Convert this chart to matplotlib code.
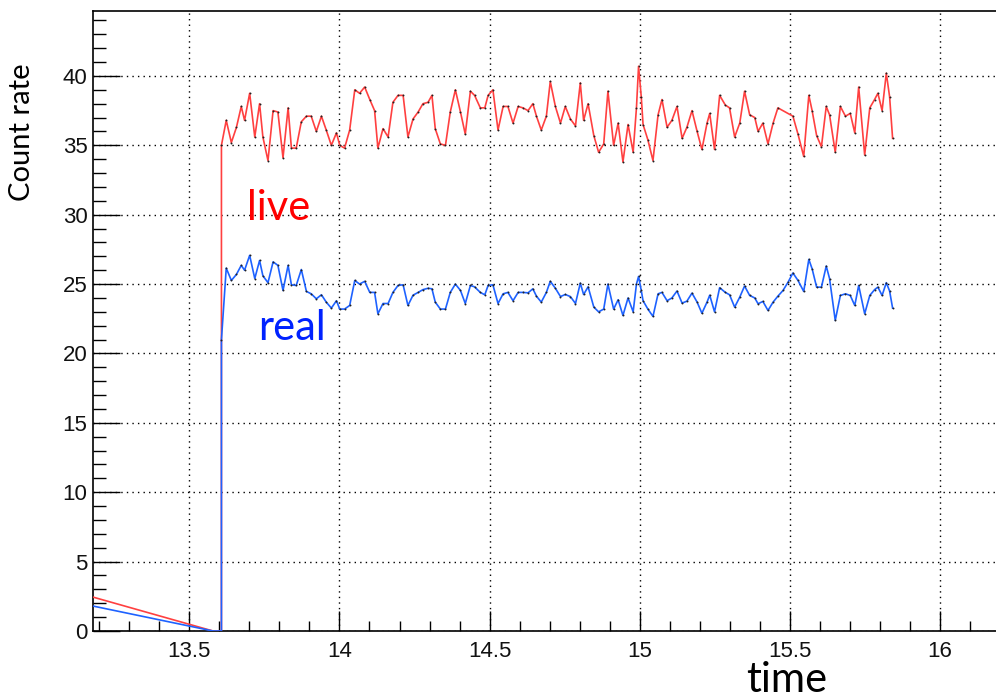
import numpy as np
import matplotlib
matplotlib.use('Agg')
import matplotlib.pyplot as plt
from matplotlib.ticker import MultipleLocator, FuncFormatter

# ---- data ----
lead_time = [13.17, 13.579, 13.607]
live_lead = [2.5, 0.0, 0.0]
real_lead = [1.84, 0.0, 0.0]

time = [13.607, 13.623, 13.640, 13.657, 13.673, 13.684, 13.701, 13.718, 13.734, 13.745,
        13.762, 13.779, 13.795, 13.812, 13.829, 13.840, 13.856, 13.873, 13.890, 13.906,
        13.923, 13.940, 13.956, 13.973, 13.990, 14.001, 14.017, 14.034, 14.051, 14.067,
        14.084, 14.101, 14.117, 14.128, 14.145,
        14.162, 14.178, 14.195, 14.212, 14.228, 14.245, 14.262, 14.278, 14.295, 14.308,
        14.319, 14.336, 14.353, 14.369, 14.386, 14.403, 14.419, 14.436, 14.450, 14.469,
        14.484, 14.495, 14.511, 14.528, 14.545, 14.561, 14.578, 14.595, 14.611, 14.628,
        14.644, 14.656, 14.672, 14.689, 14.702, 14.719,
        14.736, 14.752, 14.769, 14.786, 14.802, 14.813, 14.828, 14.847, 14.863, 14.880,
        14.894, 14.913, 14.928, 14.944, 14.961, 14.978, 14.989, 14.996, 15.005, 15.011,
        15.027, 15.044, 15.061, 15.074, 15.091, 15.107, 15.124, 15.141, 15.157, 15.174,
        15.191, 15.207, 15.224, 15.233, 15.249, 15.266, 15.285,
        15.299, 15.316, 15.333, 15.349, 15.366, 15.383, 15.394, 15.410, 15.427, 15.444,
        15.460, 15.477, 15.494, 15.510, 15.527, 15.546, 15.563, 15.574, 15.589, 15.605,
        15.621, 15.632, 15.651, 15.668, 15.685, 15.701, 15.716, 15.729, 15.749, 15.766,
        15.782, 15.793, 15.807, 15.821, 15.832, 15.842]

live = [35.0, 36.8, 35.2, 36.3, 37.8, 36.8, 38.75, 35.6, 38.0, 35.6,
        33.9, 37.5, 37.4, 34.1, 37.7, 34.8, 34.8, 36.7, 37.1, 37.1,
        36.0, 37.1, 36.1, 35.0, 35.9, 35.0, 34.8, 36.1, 39.0, 38.75,
        39.2, 38.3, 37.5, 34.8, 36.2,
        35.6, 38.1, 38.6, 38.6, 35.6, 36.9, 37.4, 38.0, 38.1, 38.6,
        36.2, 35.1, 35.0, 37.4, 39.0, 37.4, 35.8, 38.9, 38.6, 37.7,
        37.7, 38.6, 39.0, 36.1, 37.8, 37.8, 36.6, 37.8, 37.7, 37.5,
        38.0, 37.1, 36.1, 37.1, 39.6, 37.8,
        36.6, 37.8, 36.9, 36.4, 39.5, 36.8, 38.0, 35.7, 34.5, 35.1,
        38.9, 35.0, 36.6, 33.8, 36.5, 34.5, 37.7, 40.7, 38.5, 36.5,
        35.4, 33.9, 37.2, 38.3, 36.3, 36.8, 37.8, 35.5, 36.3, 37.5,
        36.0, 34.7, 36.6, 37.3, 34.7, 38.6, 37.9,
        37.7, 35.6, 36.6, 38.9, 37.2, 37.0, 36.0, 36.6, 35.1, 36.6,
        37.7, None, None, 37.1, 35.8, 34.2, 38.6, 37.5, 35.7, 34.9,
        37.8, 37.2, 34.5, 37.8, 37.1, 37.3, 35.9, 39.2, 34.3, 37.7,
        38.3, 38.75, 37.5, 40.2, 38.5, 35.5]

real = [21.0, 26.15, 25.26, 25.7, 26.35, 26.0, 27.07, 25.4, 26.7, 25.6,
        25.1, 26.6, 26.35, 24.54, 26.35, 24.95, 24.9, 26.05, 24.47, 24.3,
        23.94, 24.23, 23.7, 23.27, 23.8, 23.2, 23.2, 23.46, 25.26, 25.0,
        25.2, 24.4, 24.4, 22.86, 23.6,
        23.6, 24.4, 24.9, 24.95, 23.46, 24.2, 24.4, 24.6, 24.7, 24.66,
        23.7, 23.2, 23.2, 24.4, 25.0, 24.54, 23.6, 24.9, 24.8, 24.4,
        24.23, 24.9, 24.95, 23.6, 24.3, 24.4, 23.8, 24.4, 24.4, 24.37,
        24.66, 24.13, 23.7, 24.4, 25.2, 24.7,
        24.1, 24.25, 24.1, 23.6, 25.07, 24.25, 24.8, 23.34, 23.0, 23.2,
        25.0, 23.2, 23.87, 22.74, 24.0, 23.0, 25.0, 25.55, 24.54, 23.8,
        23.2, 22.67, 24.3, 24.4, 23.8, 24.0, 24.5, 23.63, 23.77, 24.35,
        23.7, 22.9, 23.7, 24.2, 23.0, 24.74, 24.4,
        24.23, 23.34, 24.06, 24.86, 24.18, 24.0, 23.58, 23.75, 23.1, 23.7,
        24.13, 24.54, 25.14, 25.8, 25.26, 24.47, 26.78, 26.1, 24.78, 24.78,
        26.3, 25.4, 22.38, 24.18, 24.3, 24.18, 23.46, 24.9, 22.86, 24.18,
        24.6, 24.78, 24.18, 25.1, 24.5, 23.27]

x_major_labels = ["13.5", "14", "14.5", "15", "15.5", "16"]
y_major_labels = ["0", "5", "10", "15", "20", "25", "30", "35", "40"]

# ---- figure ----
W, H = 996, 699
fig = plt.figure(figsize=(W / 100, H / 100), dpi=100)
ax = fig.add_axes([93 / W, 1 - 631 / H, (W - 93) / W, (631 - 11) / H])

t = np.array(time, dtype=float)
lv = np.array([np.nan if v is None else v for v in live], dtype=float)
rl = np.array(real, dtype=float)

red = '#FF4040'
blue = '#1E62FF'

m = np.isfinite(lv)
live_t = np.concatenate([lead_time, t[m]])
live_v = np.concatenate([live_lead, lv[m]])
real_t = np.concatenate([lead_time, t])
real_v = np.concatenate([real_lead, rl])

ax.plot(live_t, live_v, color=red, lw=1.2, zorder=3)
ax.plot(t[m], lv[m], ls='none', marker='o', ms=1.4, mfc='#222222', mec='none', zorder=4)
ax.plot(real_t, real_v, color=blue, lw=1.2, zorder=3)
ax.plot(t, rl, ls='none', marker='o', ms=1.4, mfc='#222222', mec='none', zorder=4)

ax.set_xlim(13.1793, 16.1863)
ax.set_ylim(0, 44.68)

ax.xaxis.set_major_locator(MultipleLocator(0.5))
ax.xaxis.set_minor_locator(MultipleLocator(0.1))
ax.yaxis.set_major_locator(MultipleLocator(5))
ax.yaxis.set_minor_locator(MultipleLocator(1))
ax.xaxis.set_major_formatter(FuncFormatter(lambda v, p: '%g' % round(v, 3)))
ax.yaxis.set_major_formatter(FuncFormatter(lambda v, p: '%g' % round(v, 3)))

ax.tick_params(axis='x', which='major', direction='in', length=14.4, width=1.0,
               top=False, pad=7, labelsize=16)
ax.tick_params(axis='x', which='minor', direction='in', length=7.2, width=1.0, top=False)
ax.tick_params(axis='y', which='major', direction='in', length=19.4, width=1.0,
               right=False, pad=4, labelsize=16)
ax.tick_params(axis='y', which='minor', direction='in', length=9.7, width=1.0, right=False)
for lab in ax.get_xticklabels() + ax.get_yticklabels():
    lab.set_fontfamily('Liberation Sans')
    lab.set_color('#111111')

ax.grid(True, which='major', color='black', linestyle=(0, (1, 3)), linewidth=1.0)
ax.set_axisbelow(True)

ax.spines['right'].set_visible(False)
for s in ['top', 'left', 'bottom']:
    ax.spines[s].set_linewidth(1.2)

txt_font = ['Lato', 'DejaVu Sans']
fig.text(22 / W, 1 - 132 / H, 'Count rate', rotation=90, ha='center', va='center',
         fontsize=21, family=txt_font, weight='normal', color='black')
fig.text(247 / W, 1 - 220 / H, 'live', ha='left', va='baseline', fontsize=30,
         family=txt_font, weight='normal', color='#FF0000')
fig.text(258 / W, 1 - 340 / H, 'real', ha='left', va='baseline', fontsize=30,
         family=txt_font, weight='normal', color='#0022FF')
fig.text(746 / W, 1 - 692 / H, 'time', ha='left', va='baseline', fontsize=30,
         family=txt_font, weight='normal', color='black')

fig.savefig('out.png', dpi=100)
